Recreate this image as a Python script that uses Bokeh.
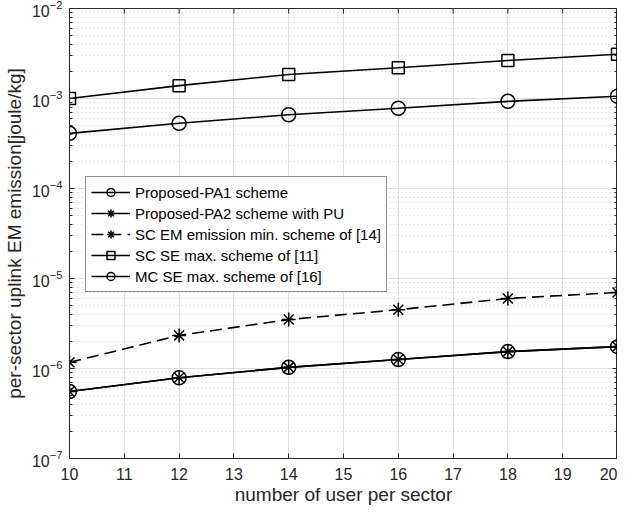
import math
from bokeh.plotting import figure
from bokeh.models import FixedTicker
from bokeh.embed import file_html
from bokeh.resources import INLINE

users = [10, 12, 14, 16, 18, 20]
pa1 = [5.55e-7, 7.9e-7, 1.03e-6, 1.26e-6, 1.54e-6, 1.75e-6]
pa2 = [5.55e-7, 7.9e-7, 1.03e-6, 1.26e-6, 1.54e-6, 1.75e-6]
sc_em = [1.17e-6, 2.33e-6, 3.5e-6, 4.5e-6, 6.0e-6, 7.0e-6]
sc_se = [1.0e-3, 1.39e-3, 1.85e-3, 2.2e-3, 2.64e-3, 3.1e-3]
mc_se = [4.1e-4, 5.3e-4, 6.6e-4, 7.8e-4, 9.3e-4, 1.06e-3]

x_ticks = list(range(10, 21))
y_major = [1e-7, 1e-6, 1e-5, 1e-4, 1e-3, 1e-2]
y_minor = [m * d for d in [1e-7, 1e-6, 1e-5, 1e-4, 1e-3] for m in range(2, 10)]

labels = ["Proposed-PA1 scheme", "Proposed-PA2 scheme with PU",
          "SC EM emission min. scheme of [14]", "SC SE max. scheme of [11]",
          "MC SE max. scheme of [16]"]

FONT = "Liberation Sans"
TXT = "#262626"
X0, X1 = 10, 20
Y0, Y1 = 1e-7, 1e-2

p = figure(width=617, height=507, y_axis_type="log", x_range=(X0, X1),
           y_range=(Y0, Y1), output_backend="svg", toolbar_location=None,
           min_border_left=64, min_border_right=0, min_border_top=8,
           min_border_bottom=49, background_fill_color="white",
           outline_line_color=TXT)

for ax in (p.xaxis[0], p.yaxis[0]):
    ax.major_tick_in = 5
    ax.major_tick_out = 0
    ax.minor_tick_in = 3
    ax.minor_tick_out = 0
    ax.axis_line_color = TXT
    ax.major_tick_line_color = TXT
    ax.minor_tick_line_color = TXT
    ax.major_label_text_color = TXT
    ax.major_label_text_font = FONT
    ax.major_label_text_font_size = "16px"
    ax.axis_label_text_font = FONT
    ax.axis_label_text_font_size = "19px"
    ax.axis_label_text_font_style = "normal"
    ax.axis_label_text_color = TXT

p.xaxis.ticker = FixedTicker(ticks=x_ticks)
p.yaxis.ticker = FixedTicker(ticks=y_major, minor_ticks=y_minor)
p.xaxis.axis_label = "number of user per sector"
p.yaxis.axis_label = "per-sector uplink EM emission[joule/kg]"
p.xaxis.minor_tick_line_color = None
p.xaxis.major_label_standoff = 9
p.xaxis.axis_label_standoff = 1
p.yaxis.major_label_standoff = 7
p.yaxis.axis_label_standoff = 4

p.xgrid.grid_line_color = "#dedede"
p.ygrid.grid_line_color = "#dedede"
p.ygrid.minor_grid_line_color = "#cfcfcf"
p.ygrid.minor_grid_line_dash = "1 3"

# mirrored inward ticks on the top and right frame edges (half of each dash is clipped)
p.scatter(x_ticks, [Y1] * len(x_ticks), marker="dash", angle=math.pi / 2, size=10,
          line_color=TXT, line_width=1)
p.scatter([X1] * len(y_major), y_major, marker="dash", size=10, line_color=TXT, line_width=1)
p.scatter([X1] * len(y_minor), y_minor, marker="dash", size=6, line_color=TXT, line_width=1)

lw = 1.6
p.line(users, pa1, line_color="black", line_width=lw, legend_label=labels[0])
p.scatter(users, pa1, marker="circle", size=14, fill_color=None, line_color="black",
          line_width=1.5, legend_label=labels[0])
p.line(users, pa2, line_color="black", line_width=lw, legend_label=labels[1])
p.scatter(users, pa2, marker="asterisk", size=14, line_color="black",
          line_width=1.5, legend_label=labels[1])
p.line(users, sc_em, line_color="black", line_width=lw, line_dash="12 6", legend_label=labels[2])
p.scatter(users, sc_em, marker="asterisk", size=14, line_color="black",
          line_width=1.5, legend_label=labels[2])
p.line(users, sc_se, line_color="black", line_width=lw, legend_label=labels[3])
p.scatter(users, sc_se, marker="square", size=12, fill_color=None, line_color="black",
          line_width=1.5, legend_label=labels[3])
p.line(users, mc_se, line_color="black", line_width=lw, legend_label=labels[4])
p.scatter(users, mc_se, marker="circle", size=14, fill_color=None, line_color="black",
          line_width=1.5, legend_label=labels[4])

lg = p.legend[0]
lg.location = (16, 166)
lg.label_text_font = FONT
lg.label_text_font_size = "15px"
lg.label_text_color = "black"
lg.border_line_color = TXT
lg.border_line_width = 1
lg.glyph_width = 39
lg.glyph_height = 20
lg.label_height = 20
lg.spacing = 1
lg.padding = 5
lg.margin = 0
lg.label_standoff = 5
lg.background_fill_alpha = 1

open("out.html", "w").write(file_html(p, INLINE))
